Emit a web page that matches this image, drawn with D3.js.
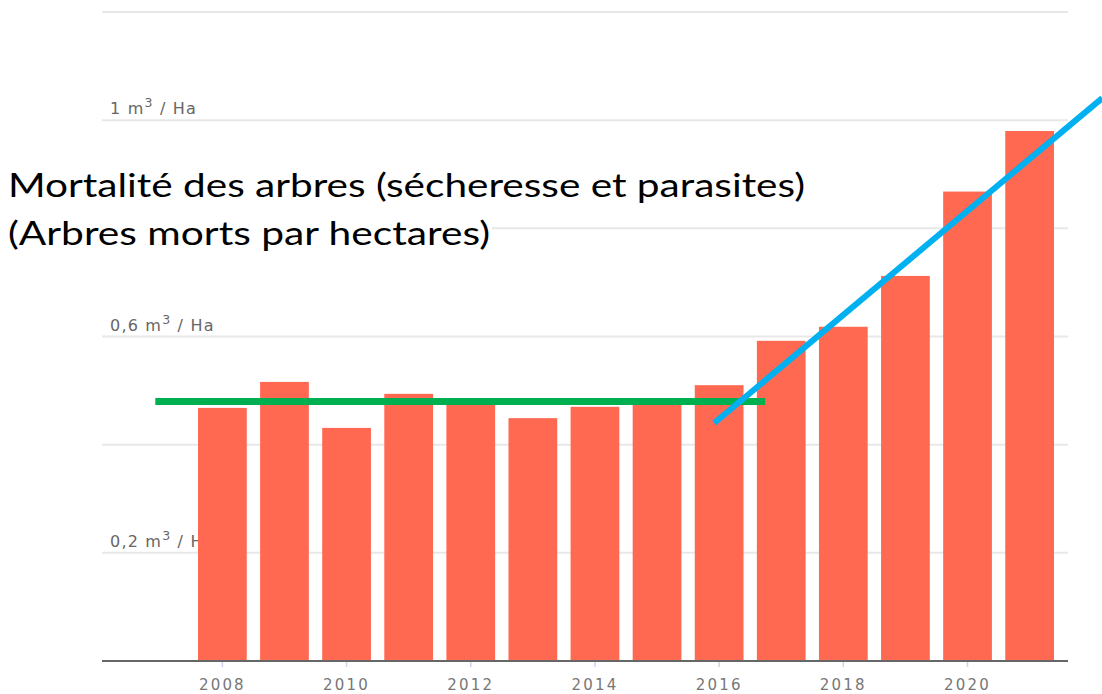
<!DOCTYPE html>
<html>
<head>
<meta charset="utf-8">
<script src="https://cdn.jsdelivr.net/npm/d3@7"></script>
<style>
  body { margin: 0; background: #fff; }
  svg { display: block; }
</style>
</head>
<body>
<script>
// Données
var years = [2008, 2009, 2010, 2011, 2012, 2013, 2014, 2015, 2016, 2017, 2018, 2019, 2020, 2021];
var mortality = [0.468, 0.516, 0.431, 0.494, 0.481, 0.449, 0.470, 0.475, 0.510, 0.592, 0.618, 0.712, 0.868, 0.980];
var gridValues = [0.2, 0.4, 0.6, 0.8, 1.0, 1.2];
var labelValues = [0.2, 0.6, 1.0];
var labelTexts = ["0,2", "0,6", "1"];
var yearTicks = [2008, 2010, 2012, 2014, 2016, 2018, 2020];

// Annotations (année, valeur)
var flatTrend = [[2006.92, 0.480], [2016.74, 0.480]];
var riseTrend = [[2015.92, 0.440], [2022.17, 1.041]];

var titleLines = ["Mortalité des arbres (sécheresse et parasites)", "(Arbres morts par hectares)"];

var width = 1102, height = 694;

var svg = d3.select("body").append("svg")
    .attr("width", width)
    .attr("height", height);

var x = d3.scaleBand()
    .domain(years)
    .range([198, 1054])
    .paddingInner(0.215)
    .paddingOuter(0);

var y = d3.scaleLinear()
    .domain([0, 1.2])
    .range([661, 12]);

var gridX0 = 102, gridX1 = 1068;

// Grille
svg.append("g").selectAll("line")
    .data(gridValues)
    .join("line")
    .attr("x1", gridX0)
    .attr("x2", gridX1)
    .attr("y1", d => y(d))
    .attr("y2", d => y(d))
    .attr("stroke", "#e8e8e8")
    .attr("stroke-width", 2);

// Libellés de l'axe Y
var yLab = svg.append("g").selectAll("text")
    .data(labelValues)
    .join("text")
    .attr("x", 110)
    .attr("y", d => y(d) - 6)
    .attr("font-family", "DejaVu Sans, sans-serif")
    .attr("font-size", 16)
    .attr("letter-spacing", "1.2px")
    .attr("fill", "#666");
yLab.append("tspan").text((d, i) => labelTexts[i] + " m");
yLab.append("tspan").attr("dy", -7).attr("font-size", 12.5).text("3");
yLab.append("tspan").attr("dy", 7).text(" / Ha");

// Barres
svg.append("g").selectAll("rect")
    .data(years)
    .join("rect")
    .attr("x", d => x(d))
    .attr("width", x.bandwidth())
    .attr("y", (d, i) => y(mortality[i]))
    .attr("height", (d, i) => y(0) - y(mortality[i]))
    .attr("fill", "#ff6952");

// Axe X
var xAxis = svg.append("g")
    .attr("transform", "translate(0," + y(0) + ")")
    .call(d3.axisBottom(x).tickValues(yearTicks).tickSize(6).tickPadding(12));
xAxis.select(".domain").remove();
xAxis.selectAll(".tick line").attr("stroke", "#c9d5ec").attr("stroke-width", 1.5);
xAxis.selectAll(".tick text")
    .attr("fill", "#777")
    .attr("font-family", "DejaVu Sans, sans-serif")
    .attr("font-size", 15)
    .attr("letter-spacing", "2.2px");

svg.append("line")
    .attr("x1", gridX0)
    .attr("x2", gridX1)
    .attr("y1", y(0))
    .attr("y2", y(0))
    .attr("stroke", "#666")
    .attr("stroke-width", 2);

// Lignes de tendance
var yearX = d3.scaleLinear()
    .domain([years[0], years[years.length - 1]])
    .range([x(years[0]) + x.bandwidth() / 2, x(years[years.length - 1]) + x.bandwidth() / 2]);

var line = d3.line()
    .x(d => yearX(d[0]))
    .y(d => y(d[1]));

svg.append("path")
    .attr("d", line(flatTrend))
    .attr("fill", "none")
    .attr("stroke", "#00b050")
    .attr("stroke-width", 7);

svg.append("path")
    .attr("d", line(riseTrend))
    .attr("fill", "none")
    .attr("stroke", "#00b0f0")
    .attr("stroke-width", 6);

// Titre
var titleY = [197, 245];
var titleLen = [797, 482];
titleLines.forEach(function(t, i) {
    svg.append("rect")
        .attr("x", 0)
        .attr("y", titleY[i] - 30)
        .attr("width", titleLen[i] + 10)
        .attr("height", 42)
        .attr("fill", "#fff");
    svg.append("text")
        .attr("x", 8)
        .attr("y", titleY[i])
        .attr("font-family", "Lato, Open Sans, sans-serif")
        .attr("font-size", 33.5)
        .attr("fill", "#000")
        .attr("textLength", titleLen[i])
        .attr("lengthAdjust", "spacingAndGlyphs")
        .text(t);
});
</script>
</body>
</html>
